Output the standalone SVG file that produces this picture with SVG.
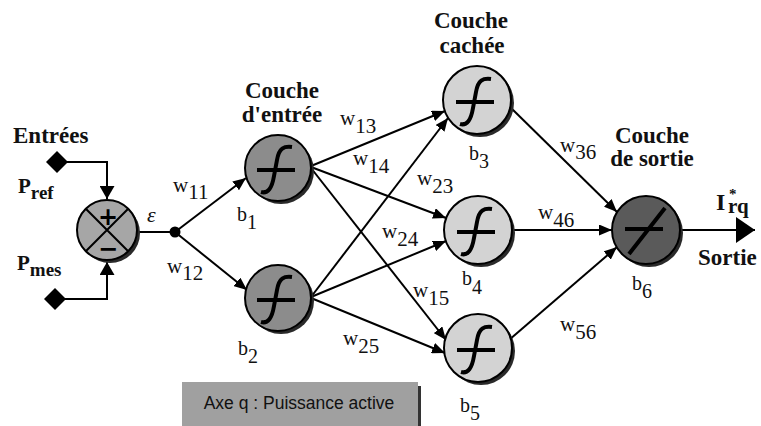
<svg xmlns="http://www.w3.org/2000/svg" xmlns:xlink="http://www.w3.org/1999/xlink" width="761" height="426" viewBox="0 0 761 426">
<style>
.lbl{font-family:"Liberation Serif","Times New Roman",serif;font-size:21px;fill:#111}
.bl{font-family:"Liberation Serif","Times New Roman",serif;font-size:20px;fill:#111}
.ttl{font-family:"Liberation Serif","Times New Roman",serif;font-size:23px;font-weight:bold;fill:#111;text-anchor:middle}
.bold{font-family:"Liberation Serif","Times New Roman",serif;font-weight:bold;fill:#111}
.sign{font-family:"DejaVu Sans",sans-serif;font-weight:bold;font-size:24px;fill:#000;text-anchor:middle}
.edge{stroke:#000;stroke-width:2;fill:none}
.node{stroke:#000;stroke-width:2}
.shadow{fill:#2a2a2a}
.glyph{stroke:#000;stroke-width:4;fill:none;stroke-linecap:butt}
.inN{fill:#8c8c8c}
.hidN{fill:#d3d3d3}
.outN{fill:#5a5a5a}
</style>
<defs>
<marker id="arr" markerUnits="userSpaceOnUse" markerWidth="13" markerHeight="11" refX="13" refY="5.5" orient="auto">
<path d="M0,0 L13,5.5 L0,11 z" fill="#000"/>
</marker>
<marker id="arrIn" markerUnits="userSpaceOnUse" markerWidth="13" markerHeight="15" refX="13" refY="7.5" orient="auto">
<path d="M0,0 L13,7.5 L0,15 z" fill="#000"/>
</marker>
<marker id="arrOut" markerUnits="userSpaceOnUse" markerWidth="19" markerHeight="26" refX="19" refY="13" orient="auto">
<path d="M0,0 L19,13 L0,26 z" fill="#000"/>
</marker>
<path id="sig" class="glyph" d="M-17,24 C-10,26 -6,20 -4,8 L-1,-8 C1,-20 6,-22 14,-21 M-21,2 H17"/>
<path id="lin" class="glyph" d="M-17,24 L19,-22 M-21,-1 H17"/>
</defs>

<rect width="761" height="426" fill="#fff"/>

<g id="connectors">
<path class="edge" d="M57,162 H107 V199" marker-end="url(#arrIn)"/>
<path class="edge" d="M55,299 H107 V262" marker-end="url(#arrIn)"/>
<path class="edge" d="M137,232 H175"/>
<path class="edge" d="M175,232 L246,178" marker-end="url(#arr)"/>
<path class="edge" d="M175,232 L247,290" marker-end="url(#arr)"/>
<path class="edge" d="M311,166 L445,111" marker-end="url(#arr)"/>
<path class="edge" d="M311,297 L448,118" marker-end="url(#arr)"/>
<path class="edge" d="M311,167 L446,218" marker-end="url(#arr)"/>
<path class="edge" d="M311,297 L446,241" marker-end="url(#arr)"/>
<path class="edge" d="M311,168 L446,340" marker-end="url(#arr)"/>
<path class="edge" d="M311,298 L445,353" marker-end="url(#arr)"/>
<path class="edge" d="M509,106 L617,212" marker-end="url(#arr)"/>
<path class="edge" d="M512,230 L612,230" marker-end="url(#arr)"/>
<path class="edge" d="M509,340 L617,247" marker-end="url(#arr)"/>
<path class="edge" d="M680,230 L755,230" marker-end="url(#arrOut)"/>
</g>

<g id="inputs">
<path d="M57,151 L68,162 L57,173 L46,162 z" fill="#000"/>
<path d="M55,288 L66,299 L55,310 L44,299 z" fill="#000"/>
<text class="bold" x="13" y="143" font-size="23">Entrées</text>
<text class="bold" x="18" y="193" font-size="21">P<tspan font-size="19" dy="6">ref</tspan></text>
<text class="bold" x="17" y="270" font-size="21">P<tspan font-size="19" dy="6">mes</tspan></text>
</g>

<g id="summer">
<circle class="shadow" cx="110" cy="233" r="30"/>
<circle class="node" cx="107" cy="230" r="30" fill="#a6a6a6"/>
<path class="edge" d="M85.8,208.8 L128.2,251.2 M128.2,208.8 L85.8,251.2"/>
<text class="sign" x="108" y="225">+</text>
<text class="sign" x="108" y="257">−</text>
</g>

<g id="epsilon">
<circle cx="175" cy="232" r="5.5" fill="#000"/>
<text x="147" y="222" font-family="Liberation Serif, serif" font-style="italic" font-size="22" fill="#111">ε</text>
</g>

<g id="b1">
<circle class="shadow" cx="281" cy="171" r="33"/>
<circle class="node inN" cx="278" cy="168" r="33"/>
<use xlink:href="#sig" x="278" y="168"/>
<text class="bl" x="237" y="221">b<tspan dy="8">1</tspan></text>
</g>
<g id="b2">
<circle class="shadow" cx="281" cy="301" r="33"/>
<circle class="node inN" cx="278" cy="298" r="33"/>
<use xlink:href="#sig" x="278" y="298"/>
<text class="bl" x="238" y="355">b<tspan dy="8">2</tspan></text>
</g>
<g id="b3">
<circle class="shadow" cx="480" cy="103" r="34"/>
<circle class="node hidN" cx="477" cy="100" r="34"/>
<use xlink:href="#sig" x="477" y="100"/>
<text class="bl" x="469" y="160">b<tspan dy="8">3</tspan></text>
</g>
<g id="b4">
<circle class="shadow" cx="481" cy="233" r="34"/>
<circle class="node hidN" cx="478" cy="230" r="34"/>
<use xlink:href="#sig" x="478" y="230"/>
<text class="bl" x="462" y="285">b<tspan dy="9">4</tspan></text>
</g>
<g id="b5">
<circle class="shadow" cx="481" cy="351" r="34"/>
<circle class="node hidN" cx="478" cy="348" r="34"/>
<use xlink:href="#sig" x="478" y="348"/>
<text class="bl" x="460" y="412">b<tspan dy="8">5</tspan></text>
</g>
<g id="b6">
<circle class="shadow" cx="649" cy="233" r="34"/>
<circle class="node outN" cx="646" cy="230" r="34"/>
<use xlink:href="#lin" x="646" y="230"/>
<text class="bl" x="632" y="290">b<tspan dy="8">6</tspan></text>
</g>

<g id="titles">
<text class="ttl" x="282" y="98">Couche</text>
<text class="ttl" x="282" y="122">d'entrée</text>
<text class="ttl" x="471" y="28">Couche</text>
<text class="ttl" x="472" y="53">cachée</text>
<text class="ttl" x="652" y="143">Couche</text>
<text class="ttl" x="652" y="166">de sortie</text>
</g>

<g id="output">
<text class="bold" x="716" y="210" font-size="24" font-weight="normal">I</text>
<text class="bold" x="729" y="199" font-size="15">*</text>
<text class="bold" x="728" y="213" font-size="21">rq</text>
<text class="bold" x="698" y="265" font-size="23">Sortie</text>
</g>

<g id="weights">
<text class="lbl" x="173" y="192">w<tspan dy="7">11</tspan></text>
<text class="lbl" x="167" y="273">w<tspan dy="7">12</tspan></text>
<text class="lbl" x="340" y="125">w<tspan dy="8">13</tspan></text>
<text class="lbl" x="353" y="165">w<tspan dy="8">14</tspan></text>
<text class="lbl" x="417" y="185">w<tspan dy="8">23</tspan></text>
<text class="lbl" x="382" y="238">w<tspan dy="8">24</tspan></text>
<text class="lbl" x="413" y="297">w<tspan dy="8">15</tspan></text>
<text class="lbl" x="343" y="345">w<tspan dy="8">25</tspan></text>
<text class="lbl" x="560" y="152">w<tspan dy="7">36</tspan></text>
<text class="lbl" x="538" y="219">w<tspan dy="8">46</tspan></text>
<text class="lbl" x="560" y="331">w<tspan dy="8">56</tspan></text>
</g>

<g id="legend">
<rect x="417" y="386" width="4" height="40" fill="#333"/>
<rect x="182" y="382" width="236" height="44" fill="#a0a0a0"/>
<text x="299" y="409" font-family="Liberation Sans, Arial, sans-serif" font-size="17.5" fill="#111" text-anchor="middle">Axe q : Puissance active</text>
</g>
</svg>
